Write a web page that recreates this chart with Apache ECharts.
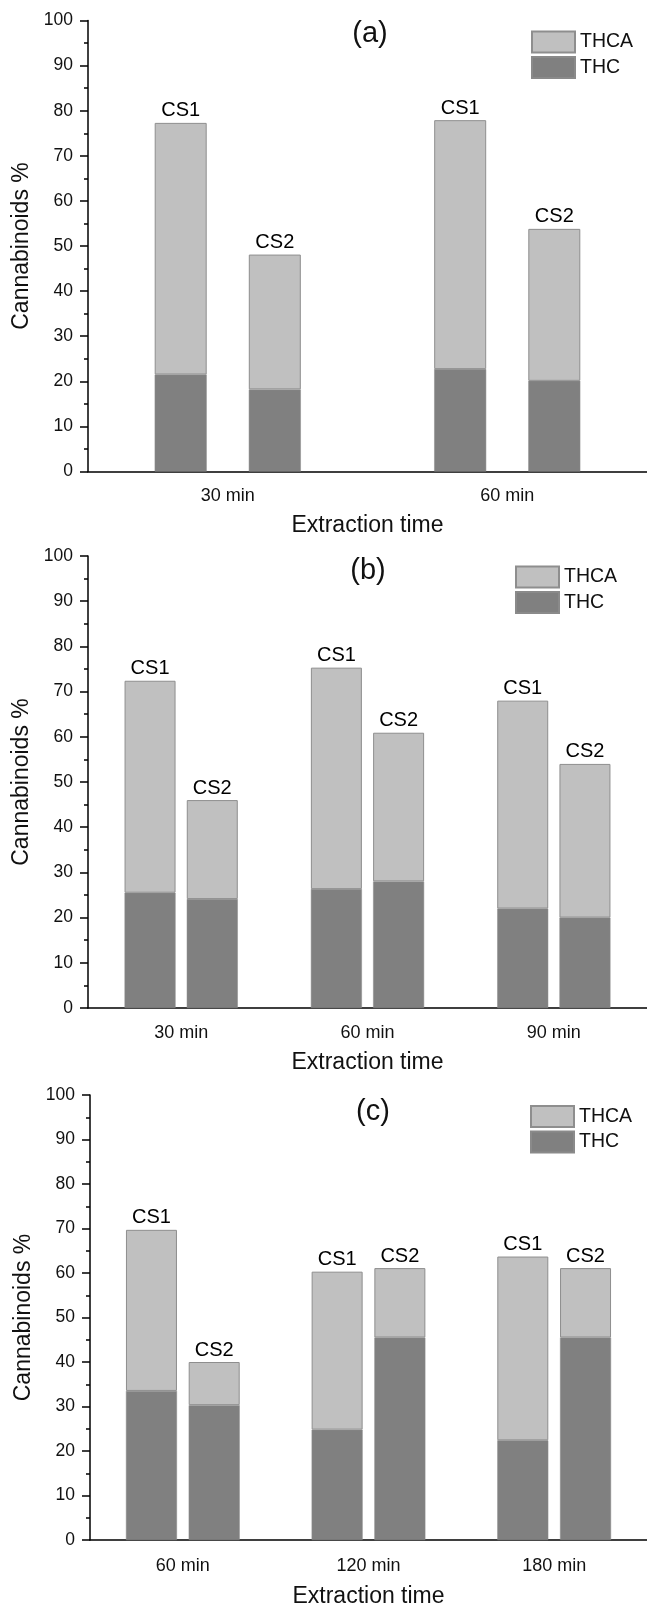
<!DOCTYPE html>
<html>
<head>
<meta charset="utf-8">
<script src="https://cdn.jsdelivr.net/npm/echarts@6/dist/echarts.min.js"></script>
<style>
html,body{margin:0;padding:0;background:#fff;}
#chart{width:647px;height:1609px;}
</style>
</head>
<body>
<div id="chart"></div>
<script>
// ---- Data ----
const panelTitles = ['(a)', '(b)', '(c)'];
const timesA = ['30 min', '60 min'];
const timesB = ['30 min', '60 min', '90 min'];
const timesC = ['60 min', '120 min', '180 min'];
const yTicks = [0, 10, 20, 30, 40, 50, 60, 70, 80, 90, 100];

// THC and THCA segment values (%), stacked per sample
const thcA_CS1 = [21.5, 22.7];
const thcaA_CS1 = [55.8, 55.2];
const thcA_CS2 = [18.2, 20.1];
const thcaA_CS2 = [29.9, 33.7];

const thcB_CS1 = [25.5, 26.3, 22.0];
const thcaB_CS1 = [46.9, 49.0, 46.0];
const thcB_CS2 = [24.1, 28.0, 20.0];
const thcaB_CS2 = [21.9, 32.9, 34.0];

const thcC_CS1 = [33.5, 24.8, 22.4];
const thcaC_CS1 = [36.2, 35.5, 41.3];
const thcC_CS2 = [30.3, 45.5, 45.5];
const thcaC_CS2 = [9.7, 15.6, 15.6];

// ---- Layout / style ----
const FONT = "'Liberation Sans', Arial, sans-serif";
const panels = [
  {cats: timesA, cs1: [thcA_CS1, thcaA_CS1], cs2: [thcA_CS2, thcaA_CS2],
   grid: {left: 88, top: 20.5, width: 559, height: 451}, barWidth: 52, barGap: '81%', labelMargin: 16, nameGap: 43,
   title: {x: 370, y: 34}, legend: {left: 526, top: 25.5}},
  {cats: timesB, cs1: [thcB_CS1, thcaB_CS1], cs2: [thcB_CS2, thcaB_CS2],
   grid: {left: 88, top: 556, width: 561, height: 452}, barWidth: 51, barGap: '22%', labelMargin: 16, nameGap: 43,
   title: {x: 368, y: 571}, legend: {left: 510, top: 560.5}},
  {cats: timesC, cs1: [thcC_CS1, thcaC_CS1], cs2: [thcC_CS2, thcaC_CS2],
   grid: {left: 90, top: 1095, width: 561, height: 451.5}, barWidth: 51, barGap: '23%', labelMargin: 17, nameGap: 45,
   title: {x: 373, y: 1112}, legend: {left: 525, top: 1100}}
];

const THCA_COLOR = '#c0c0c0';
const THC_COLOR = '#808080';

const option = {
  animation: false,
  backgroundColor: '#fff',
  textStyle: {fontFamily: FONT},
  grid: [], xAxis: [], yAxis: [], series: [], legend: [], graphic: []
};

panels.forEach((p, i) => {
  option.grid.push(Object.assign({containLabel: false}, p.grid));
  option.xAxis.push({
    type: 'category', gridIndex: i, data: p.cats,
    axisLine: {lineStyle: {color: '#000', width: 1.5}},
    axisTick: {show: false},
    axisLabel: {color: '#111', fontSize: 18, margin: p.labelMargin, fontFamily: FONT},
    name: 'Extraction time', nameLocation: 'middle', nameGap: p.nameGap,
    nameTextStyle: {color: '#111', fontSize: 23, fontFamily: FONT}
  });
  option.yAxis.push({
    type: 'value', gridIndex: i, min: yTicks[0], max: yTicks[yTicks.length - 1], interval: 10,
    axisLine: {show: true, lineStyle: {color: '#000', width: 1.5}},
    axisTick: {show: true, length: 8, lineStyle: {color: '#000', width: 1.5}},
    minorTick: {show: true, splitNumber: 2, length: 4, lineStyle: {color: '#000', width: 1.5}},
    splitLine: {show: false},
    axisLabel: {color: '#111', fontSize: 17.5, margin: 15, fontFamily: FONT},
    name: 'Cannabinoids %', nameLocation: 'middle', nameGap: 47,
    nameTextStyle: {color: '#111', fontSize: 23, fontFamily: FONT}
  });
  const mk = (name, data, stack, color, label) => ({
    type: 'bar', name: name, xAxisIndex: i, yAxisIndex: i, data: data, stack: 'p' + i + stack,
    barWidth: p.barWidth, barGap: p.barGap,
    itemStyle: name === 'THCA'
      ? {color: color, borderColor: '#8e8e8e', borderWidth: 1}
      : {color: color, borderColor: '#8a8a8a', borderWidth: 0.5},
    label: label ? {show: true, position: 'top', distance: 2, formatter: label,
                    color: '#000', fontSize: 20, fontFamily: FONT} : {show: false},
    emphasis: {disabled: true}
  });
  option.series.push(mk('THC', p.cs1[0], 'cs1', THC_COLOR, null));
  option.series.push(mk('THCA', p.cs1[1], 'cs1', THCA_COLOR, 'CS1'));
  option.series.push(mk('THC', p.cs2[0], 'cs2', THC_COLOR, null));
  option.series.push(mk('THCA', p.cs2[1], 'cs2', THCA_COLOR, 'CS2'));
  option.legend.push({
    data: ['THCA', 'THC'], orient: 'vertical', left: p.legend.left, top: p.legend.top,
    itemWidth: 43, itemHeight: 21, itemGap: 2.5, padding: 5, icon: 'rect',
    selectedMode: false,
    textStyle: {color: '#111', fontSize: 19.5, fontFamily: FONT}
  });
  option.graphic.push({
    type: 'text', x: p.title.x, y: p.title.y,
    style: {text: panelTitles[i], fill: '#111', fontSize: 29, fontFamily: FONT,
            textAlign: 'center', textVerticalAlign: 'middle'}
  });
});

const chart = echarts.init(document.getElementById('chart'), null, {renderer: 'canvas'});
chart.setOption(option);
</script>
</body>
</html>
